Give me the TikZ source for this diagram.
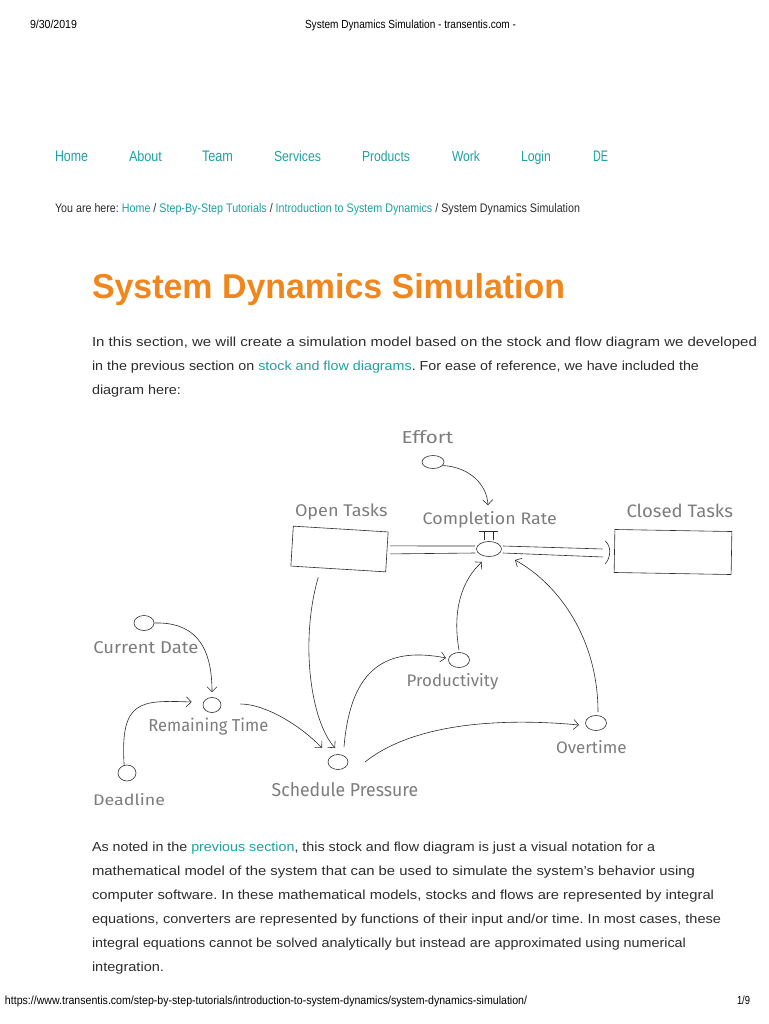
\documentclass[tikz,border=0pt]{standalone}
\usepackage{fontspec}
\setmainfont{Liberation Sans}
\newfontfamily\hand{Fira Sans}
\usepackage{graphicx}
\usetikzlibrary{shapes.geometric,arrows.meta,calc}
\definecolor{teal2}{RGB}{32,160,160}
\definecolor{orng}{RGB}{241,135,28}
\definecolor{bodyc}{RGB}{45,45,45}
\definecolor{handc}{RGB}{125,125,125}
\definecolor{inkc}{RGB}{45,45,45}
\frenchspacing
\newcommand\fitt[6]{\node[txt,text=#5] (#1) at (#2) {\resizebox{#3pt}{#4pt}{#6}};}
\begin{document}
\begin{tikzpicture}[x=1pt,y=-1pt,
  txt/.style={anchor=base west,inner sep=0pt,outer sep=0pt},
  conv/.style={ellipse,draw=inkc,line width=0.6pt,inner sep=0pt},
  stock/.style={rectangle,draw=inkc,line width=0.6pt,inner sep=0pt},
  arr/.style={draw=inkc,line width=0.6pt,-{Straight Barb[length=5pt,width=10pt]}},
  pipe/.style={draw=inkc,line width=0.6pt}]
\fill[white] (0,0) rectangle (768,1024);
\useasboundingbox (0,0) rectangle (768,1024);
% header
\fitt{hd1}{30,29}{47}{8.5}{black}{9/30/2019}
\fitt{hd2}{305,29}{211}{8.5}{black}{System Dynamics Simulation - transentis.com -}
% navigation
\fitt{n1}{55,161.5}{33}{10.5}{teal2}{Home}
\fitt{n2}{129,161.5}{33}{10.5}{teal2}{About}
\fitt{n3}{202,161.5}{31}{10.5}{teal2}{Team}
\fitt{n4}{274,161.5}{47}{10.5}{teal2}{Services}
\fitt{n5}{362,161.5}{48}{10.5}{teal2}{Products}
\fitt{n6}{452,161.5}{28}{10.5}{teal2}{Work}
\fitt{n7}{521,161.5}{30}{10.5}{teal2}{Login}
\fitt{n8}{593,161.5}{15}{10.5}{teal2}{DE}
% breadcrumb
\fitt{bc}{55,213}{525}{9}{bodyc}{You are here: \textcolor{teal2}{Home} / \textcolor{teal2}{Step-By-Step Tutorials} / \textcolor{teal2}{Introduction to System Dynamics} / System Dynamics Simulation}
% title
\fitt{title}{92,298.5}{473}{25}{orng}{\bfseries System Dynamics Simulation}
% paragraph 1
\fitt{p1a}{92,346.5}{665}{9.5}{bodyc}{In this section, we will create a simulation model based on the stock and flow diagram we developed}
\fitt{p1b}{92,370.5}{607}{9.5}{bodyc}{in the previous section on \textcolor{teal2}{stock and flow diagrams}. For ease of reference, we have included the}
\fitt{p1c}{92,394.5}{89}{9.5}{bodyc}{diagram here:}
% paragraph 2
\fitt{p2a}{92,851.5}{563}{9.5}{bodyc}{As noted in the \textcolor{teal2}{previous section}, this stock and flow diagram is just a visual notation for a}
\fitt{p2b}{92,875.5}{603}{9.5}{bodyc}{mathematical model of the system that can be used to simulate the system’s behavior using}
\fitt{p2c}{92,899.5}{622}{9.5}{bodyc}{computer software. In these mathematical models, stocks and flows are represented by integral}
\fitt{p2d}{92,923.5}{629}{9.5}{bodyc}{equations, converters are represented by functions of their input and/or time. In most cases, these}
\fitt{p2e}{92,947.5}{594}{9.5}{bodyc}{integral equations cannot be solved analytically but instead are approximated using numerical}
\fitt{p2f}{92,971.5}{72}{9.5}{bodyc}{integration.}
% footer
\fitt{ft1}{5,1004}{522}{8.5}{black}{https://www.transentis.com/step-by-step-tutorials/introduction-to-system-dynamics/system-dynamics-simulation/}
\fitt{ft2}{737,1004}{13}{8.5}{black}{1/9}
% diagram labels
\fitt{lef}{401.7,443}{51.6}{13}{handc}{\hand Effort}
\fitt{lot}{295,516.7}{92.5}{12.7}{handc}{\hand Open Tasks}
\fitt{lcr}{422.7,524.5}{134}{13}{handc}{\hand Completion Rate}
\fitt{lct}{626.5,517.5}{106.5}{13.5}{handc}{\hand Closed Tasks}
\fitt{lcd}{93.3,653.3}{105}{12}{handc}{\hand Current Date}
\fitt{lrt}{148.3,731.5}{120}{13.5}{handc}{\hand Remaining Time}
\fitt{ldl}{93,805}{72}{12}{handc}{\hand Deadline}
\fitt{lsp}{271.7,796.5}{146.6}{14}{handc}{\hand Schedule Pressure}
\fitt{lpr}{406.7,686.7}{91.6}{13}{handc}{\hand Productivity}
\fitt{lov}{556,753.3}{70.7}{13}{handc}{\hand Overtime}
% diagram shapes
\node[conv,minimum width=22pt,minimum height=13pt] (eff) at (433,462) {};
\node[conv,minimum width=25pt,minimum height=15pt] (valve) at (489,549) {};
\node[conv,minimum width=20pt,minimum height=15pt] (cdate) at (144,623) {};
\node[conv,minimum width=18pt,minimum height=15pt] (rtime) at (212,705) {};
\node[conv,minimum width=18pt,minimum height=16pt] (dline) at (127,773) {};
\node[conv,minimum width=20pt,minimum height=15pt] (spress) at (338,762) {};
\node[conv,minimum width=21pt,minimum height=15pt] (prod) at (459,660) {};
\node[conv,minimum width=21pt,minimum height=15pt] (over) at (596,723) {};
\node[stock,minimum width=95pt,minimum height=40pt,rotate=-3.5] (openbox) at (339.5,549) {};
\node[stock,minimum width=117pt,minimum height=43pt,rotate=-1] (closedbox) at (673,552) {};
% pipes
\draw[pipe] ($(openbox.east)+(3,-6)$) -- ($(valve.west)+(-1,-3)$);
\draw[pipe] ($(openbox.east)+(3,2)$) -- ($(valve.west)+(-1,4)$);
\draw[pipe] ($(valve.east)+(1,-3)$) -- ($(closedbox.west)+(-11.5,-2)$);
\draw[pipe] ($(valve.east)+(1,4)$) -- ($(closedbox.west)+(-11.5,6)$);
\draw[pipe] ($(closedbox.west)+(-9,-10)$) .. controls ($(closedbox.west)+(-3,-5)$) and ($(closedbox.west)+(-3,6)$) .. ($(closedbox.west)+(-9,13)$);
\draw[pipe] ($(valve.north)+(-10,-9.5)$) -- ($(valve.north)+(9,-9.5)$);
\draw[pipe] ($(valve.north)+(-5,-9.5)$) -- ($(valve.north)+(-5,-1.5)$);
\draw[pipe] ($(valve.north)+(4,-9.5)$) -- ($(valve.north)+(4,-1.5)$);
% connectors
\draw[arr] (eff.-20) .. controls (470,467) and (487,485) .. ($(valve.north)+(-1,-36)$);
\draw[arr] (cdate.east) .. controls (190,622) and (212,640) .. ($(rtime.north)+(0,-5)$);
\draw[arr] (dline.110) .. controls (120,700) and (140,700) .. ($(rtime.west)+(-11,-3)$);
\draw[arr] ($(rtime.east)+(19,-1)$) .. controls (265,704) and (300,725) .. ($(spress.center)+(-16,-14)$);
\draw[arr] ($(openbox.south)+(-20,8)$) .. controls (300,640) and (310,720) .. ($(spress.center)+(-3,-14)$);
\draw[arr] ($(spress.center)+(6,-15)$) .. controls (350,675) and (380,645) .. ($(prod.center)+(-13,-2)$);
\draw[arr] ($(prod.center)+(0,-10)$) .. controls (452,610) and (462,580) .. ($(valve.center)+(-7,13)$);
\draw[arr] ($(over.center)+(2,-11)$) .. controls (598,640) and (560,585) .. ($(valve.center)+(26,11)$);
\draw[arr] ($(spress.center)+(27,0)$) .. controls (415,722) and (505,718) .. ($(over.center)+(-17,2)$);
\end{tikzpicture}
\end{document}
